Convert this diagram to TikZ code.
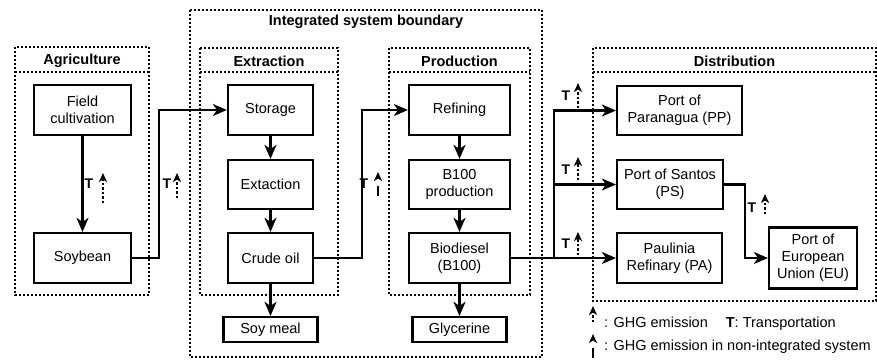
\documentclass[tikz,border=0pt]{standalone}
\usepackage{fontspec}
\setmainfont{Liberation Sans}
\usetikzlibrary{arrows.meta}

\begin{document}
\begin{tikzpicture}[x=1pt,y=-1pt,
    font=\fontsize{14.5}{17}\selectfont,
    proc/.style={draw,line width=2.2pt,align=center,inner sep=1pt},
    stage/.style={draw,line width=2.2pt,dash pattern=on 2pt off 2pt},
    head/.style={font=\fontsize{14.5}{17}\selectfont\bfseries,inner sep=0pt},
    flow/.style={line width=2.2pt,-{Stealth[length=14pt,width=12pt,inset=4pt]}},
    tlab/.style={font=\fontsize{14}{16}\selectfont\bfseries,inner sep=0pt},
    ghg/.style={line width=2.2pt,dash pattern=on 2.5pt off 2pt,-{Stealth[length=9pt,width=8pt,inset=2.5pt]}},
    ghgni/.style={line width=2.2pt,dash pattern=on 10pt off 20pt,-{Stealth[length=9pt,width=8pt,inset=2.5pt]}}]
    \useasboundingbox (0,0) rectangle (877,360);

    % stage boundaries
    \draw[stage] (190,10) rectangle (542,357);
    \draw[stage] (15,47) rectangle (149,295);   \draw[stage] (15,72) -- (149,72);
    \draw[stage] (200,48) rectangle (338,295);  \draw[stage] (200,72) -- (338,72);
    \draw[stage] (389,48) rectangle (530,295);  \draw[stage] (389,72) -- (530,72);
    \draw[stage] (593,48) rectangle (876,301);  \draw[stage] (593,72) -- (876,72);
    \node[head] (hint) at (366,22) {Integrated system boundary};
    \node[head] (hagri) at (82,61) {Agriculture};
    \node[head] (hextr) at (269,61) {Extraction};
    \node[head] (hprod) at (459.5,61) {Production};
    \node[head] (hdist) at (734.5,61) {Distribution};

    % process boxes
    \node[proc,minimum width=97,minimum height=50] (field) at (82.5,110) {Field\\cultivation};
    \node[proc,minimum width=97,minimum height=50] (soy) at (82.5,258) {Soybean};
    \node[proc,minimum width=85,minimum height=50] (stor) at (270.5,110) {Storage};
    \node[proc,minimum width=85,minimum height=49] (extr) at (270.5,184.5) {Extaction};
    \node[proc,minimum width=85,minimum height=50] (crude) at (270.5,258) {Crude oil};
    \node[proc,minimum width=94,minimum height=25] (meal) at (270.5,329.5) {Soy meal};
    \node[proc,minimum width=101,minimum height=50] (ref) at (459.5,110) {Refining};
    \node[proc,minimum width=101,minimum height=49] (b100) at (459.5,184.5) {B100\\production};
    \node[proc,minimum width=101,minimum height=50] (bio) at (459.5,258) {Biodiesel\\(B100)};
    \node[proc,minimum width=94,minimum height=25] (gly) at (459.5,329.5) {Glycerine};
    \node[proc,minimum width=125,minimum height=49] (pp) at (679.5,110.5) {Port of\\Paranagua (PP)};
    \node[proc,minimum width=106,minimum height=49] (ps) at (670,184.5) {Port of Santos\\(PS)};
    \node[proc,minimum width=105,minimum height=50] (pa) at (669.5,258) {Paulinia\\Refinary (PA)};
    \node[proc,minimum width=88,minimum height=61] (eu) at (813,258) {Port of\\European\\Union (EU)};

    % flows
    \draw[flow] (field) -- (soy);
    \draw[flow] (soy.east) -- ++(27,0) |- (stor.west);
    \draw[flow] (stor) -- (extr);
    \draw[flow] (extr) -- (crude);
    \draw[flow] (crude) -- (meal);
    \draw[flow] (crude.east) -- ++(48,0) |- (ref.west);
    \draw[flow] (ref) -- (b100);
    \draw[flow] (b100) -- (bio);
    \draw[flow] (bio) -- (gly);
    \draw[flow] (bio.east) -- (pa.west);
    \coordinate (split) at (554,258);
    \draw[flow] (split) |- (pp.west);
    \draw[flow] (split |- ps.west) -- (ps.west);
    \draw[flow] (ps.east) -- ++(21,0) |- (eu.west);

    % transport and emissions
    \node[tlab] (t1) at (89,184) {T};
    \draw[ghg] ([shift={(14,19)}]t1.center) -- ++(0,-30);
    \node[tlab] (t2) at (167,184) {T};
    \draw[ghg] ([shift={(10,14)}]t2.center) -- ++(0,-25);
    \node[tlab] (t3) at (364,184) {T};
    \draw[ghgni] ([shift={(14,12)}]t3.center) -- ++(0,-24);
    \node[tlab] (t4) at (566,96) {T};
    \draw[ghg] ([shift={(12,12)}]t4.center) -- ++(0,-25);
    \node[tlab] (t5) at (566,170) {T};
    \draw[ghg] ([shift={(12,10)}]t5.center) -- ++(0,-23);
    \node[tlab] (t6) at (566,244) {T};
    \draw[ghg] ([shift={(12,11)}]t6.center) -- ++(0,-23);
    \node[tlab] (t7) at (752,208) {T};
    \draw[ghg] ([shift={(13,6)}]t7.center) -- ++(0,-20);

    % legend
    \node[anchor=west,inner sep=0pt] (leg1) at (604,324) {: GHG emission\hspace{18pt}\textbf{T}: Transportation};
    \draw[ghg] ([shift={(-11,-2)}]leg1.west) -- ++(0,-16);
    \node[anchor=west,inner sep=0pt] (leg2) at (604,347) {: GHG emission in non-integrated system};
    \draw[ghgni] ([shift={(-11,11)}]leg2.west) -- ++(0,-24);
\end{tikzpicture}
\end{document}
